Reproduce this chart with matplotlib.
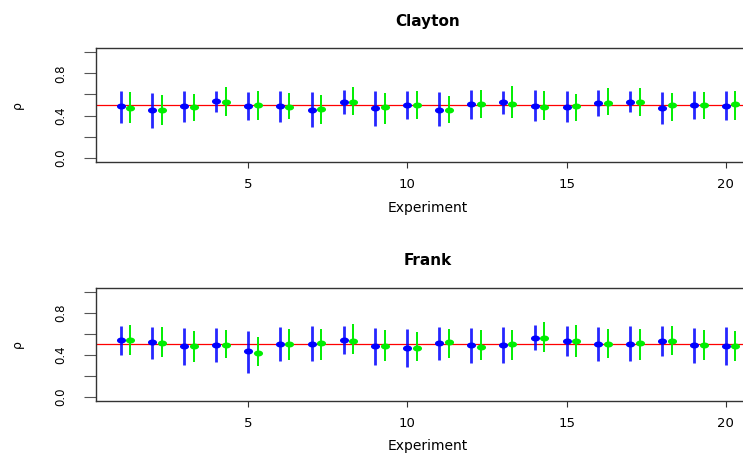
import numpy as np
import matplotlib
matplotlib.use("Agg")
import matplotlib.pyplot as plt
from matplotlib.path import Path

experiments = list(range(1, 21))

clayton_blue = [0.486, 0.448, 0.492, 0.537, 0.495, 0.489, 0.457, 0.524, 0.467, 0.502,
                0.457, 0.508, 0.530, 0.492, 0.483, 0.521, 0.533, 0.473, 0.498, 0.495]
clayton_blue_hi = [0.632, 0.616, 0.635, 0.632, 0.625, 0.632, 0.622, 0.638, 0.629, 0.629,
                   0.619, 0.641, 0.632, 0.638, 0.632, 0.641, 0.632, 0.625, 0.632, 0.632]
clayton_blue_lo = [0.333, 0.279, 0.343, 0.435, 0.362, 0.343, 0.292, 0.410, 0.305, 0.371,
                   0.298, 0.365, 0.419, 0.346, 0.337, 0.394, 0.435, 0.317, 0.365, 0.356]
clayton_green = [0.476, 0.448, 0.479, 0.527, 0.502, 0.483, 0.460, 0.530, 0.483, 0.498,
                 0.454, 0.514, 0.514, 0.479, 0.486, 0.517, 0.533, 0.498, 0.498, 0.514]
clayton_green_hi = [0.619, 0.590, 0.603, 0.667, 0.632, 0.613, 0.590, 0.667, 0.613, 0.632,
                    0.584, 0.641, 0.676, 0.632, 0.603, 0.657, 0.657, 0.610, 0.622, 0.635]
clayton_green_lo = [0.333, 0.311, 0.349, 0.400, 0.356, 0.365, 0.324, 0.406, 0.321, 0.371,
                    0.330, 0.381, 0.378, 0.356, 0.349, 0.403, 0.397, 0.349, 0.365, 0.356]

frank_blue = [0.538, 0.516, 0.478, 0.494, 0.430, 0.500, 0.503, 0.538, 0.481, 0.465,
              0.513, 0.487, 0.490, 0.561, 0.532, 0.503, 0.503, 0.532, 0.490, 0.484]
frank_blue_hi = [0.673, 0.663, 0.650, 0.653, 0.628, 0.660, 0.669, 0.673, 0.653, 0.647,
                 0.666, 0.653, 0.660, 0.681, 0.673, 0.666, 0.669, 0.673, 0.653, 0.660]
frank_blue_lo = [0.398, 0.359, 0.302, 0.331, 0.225, 0.334, 0.334, 0.407, 0.302, 0.283,
                 0.350, 0.321, 0.324, 0.439, 0.388, 0.340, 0.337, 0.385, 0.321, 0.302]
frank_green = [0.542, 0.513, 0.481, 0.494, 0.417, 0.503, 0.506, 0.532, 0.481, 0.465,
               0.519, 0.471, 0.500, 0.561, 0.529, 0.503, 0.506, 0.529, 0.494, 0.481]
frank_green_hi = [0.680, 0.666, 0.625, 0.631, 0.567, 0.644, 0.641, 0.688, 0.631, 0.615,
                  0.641, 0.637, 0.634, 0.710, 0.680, 0.641, 0.644, 0.673, 0.634, 0.622]
frank_green_lo = [0.392, 0.375, 0.327, 0.363, 0.292, 0.353, 0.353, 0.407, 0.343, 0.340,
                  0.369, 0.347, 0.353, 0.420, 0.379, 0.363, 0.353, 0.395, 0.353, 0.334]

titles = ["Clayton", "Frank"]
true_rho = 0.5
x_ticks = [5, 10, 15, 20]
y_ticks = [0.0, 0.2, 0.4, 0.6, 0.8, 1.0]
y_ticklabels = ["0.0", "", "0.4", "", "0.8", ""]

panels = [
    (clayton_blue, clayton_blue_lo, clayton_blue_hi, clayton_green, clayton_green_lo, clayton_green_hi),
    (frank_blue, frank_blue_lo, frank_blue_hi, frank_green, frank_green_lo, frank_green_hi),
]

# elliptical marker (points look horizontally stretched in reference)
t = np.linspace(0, 2 * np.pi, 40)
ell = Path(np.column_stack([np.cos(t), 0.6 * np.sin(t)]), closed=True)

W, H = 743, 454
fig = plt.figure(figsize=(W / 100, H / 100), dpi=100)
plt.rcParams['font.family'] = ['DejaVu Sans']

ax_pix = [(96, 48, 760, 162), (96, 287.5, 760, 400.7)]
x = np.array(experiments, dtype=float)
for i, (title, data, (l, t_, r, b)) in enumerate(zip(titles, panels, ax_pix)):
    ax = fig.add_axes([l / W, 1 - b / H, (r - l) / W, (b - t_) / H])
    bv, blo, bhi, gv, glo, ghi = data
    ax.axhline(true_rho, color='red', lw=0.9, zorder=1)
    ax.vlines(x, blo, bhi, color='#0000ff', lw=2.0, alpha=0.85, zorder=2)
    ax.plot(x, bv, linestyle='none', marker=ell, markersize=5.5, color='#0000ff', zorder=3)
    ax.vlines(x + 0.3, glo, ghi, color='#00ee00', lw=1.4, zorder=2)
    ax.plot(x + 0.3, gv, linestyle='none', marker=ell, markersize=5.5, color='#00ee00', zorder=3)
    ax.set_xlim(0.228, 21.07)
    ax.set_ylim(-0.04, 1.04)
    ax.set_xticks(x_ticks)
    ax.set_yticks(y_ticks)
    ax.set_yticklabels(y_ticklabels, rotation=90, va='center', fontsize=8.5)
    ax.tick_params(axis='x', length=4.5, width=0.8, pad=7, labelsize=9.5, color='#333333')
    ax.tick_params(axis='y', length=8.5, width=0.8, pad=12, color='#555555')
    for s in ax.spines.values():
        s.set_linewidth(1.0)
        s.set_color('#333333')
    ax.set_title(title, fontsize=11, fontweight='bold', pad=16)
    ax.set_xlabel("Experiment", fontsize=10, labelpad=7)
    ax.set_ylabel("ρ", fontsize=9, labelpad=22)

fig.savefig("out.png", dpi=100)
